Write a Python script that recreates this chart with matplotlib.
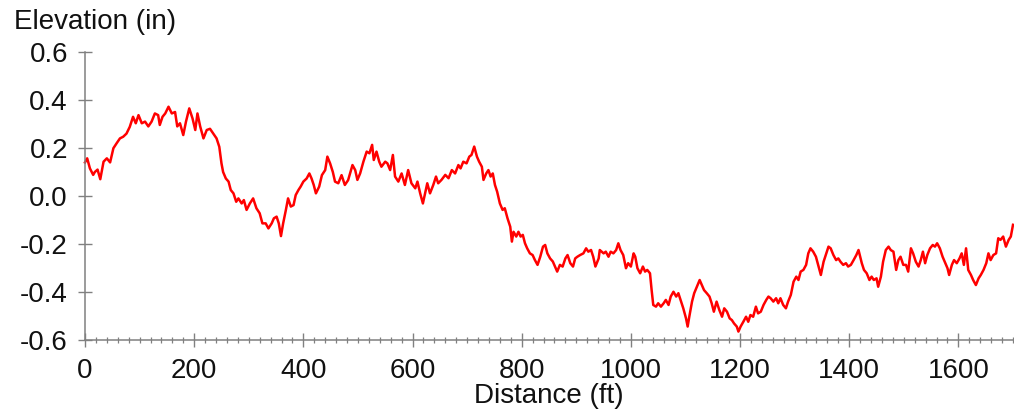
import matplotlib
matplotlib.use("Agg")
import matplotlib.pyplot as plt
from matplotlib.ticker import MultipleLocator

distance_ft = [
    0, 4, 9, 15, 18, 23, 28, 34, 40, 46, 52, 58, 64, 70, 76, 82, 88, 93, 98, 104,
    110, 116, 122, 128, 134, 137, 142, 147, 153, 159, 165, 169, 174, 180, 185, 191,
    197, 202, 206, 211, 217, 223, 229, 235, 241,
    246, 250, 253, 258, 263, 267, 272, 277, 281, 287, 291, 296, 302, 308, 314, 320,
    325, 331, 336, 342, 346, 351, 355, 359, 363, 368, 372, 377, 382, 386, 391, 395,
    400, 406, 411, 415, 419, 423, 429, 434, 440, 444, 449, 454, 458, 464, 470, 476, 482,
    490, 495, 499, 504, 510, 516, 521, 526, 529, 534, 539, 543, 550, 554, 559, 564,
    568, 574, 580, 586, 592, 598, 605, 609, 614, 619, 623, 627, 632, 638, 643, 647,
    653, 660, 666, 672, 678, 684, 688, 693, 699, 704, 708,
    713, 718, 722, 727, 730, 735, 739, 743, 747, 751, 755, 760, 765, 769, 774, 779,
    782, 785, 790, 794, 798, 802, 806, 810, 815, 820, 824, 829, 834, 839, 843, 847,
    852, 857, 861, 865, 870, 875, 880, 884, 889, 894, 898, 902, 907, 913, 918, 922,
    927, 931, 935, 941,
    943, 950, 954, 959, 963, 968, 973, 977, 981, 986, 991, 995, 1000, 1005, 1008, 1012,
    1017, 1022, 1026, 1030, 1035, 1038, 1041, 1046, 1050, 1055, 1060, 1064, 1069, 1073,
    1078, 1083, 1087, 1091, 1096, 1101, 1104, 1107, 1112, 1116, 1121, 1126, 1130, 1134,
    1139, 1144, 1148, 1152, 1157, 1162, 1167, 1171, 1176, 1181, 1185, 1189, 1194,
    1197, 1201, 1206, 1211, 1215, 1219, 1224, 1229, 1233, 1238, 1243, 1248, 1252, 1256,
    1261, 1266, 1270, 1274, 1279, 1284, 1288, 1293, 1298, 1303, 1307, 1311, 1316, 1321,
    1325, 1329, 1334, 1339, 1343, 1348, 1353, 1358, 1362, 1366, 1371, 1376, 1380, 1384,
    1389, 1394, 1398, 1403, 1408, 1413, 1417,
    1423, 1427, 1432, 1437, 1441, 1445, 1450, 1453, 1458, 1462, 1467, 1472, 1476, 1481,
    1486, 1490, 1494, 1499, 1504, 1508, 1513, 1517, 1522, 1527, 1531, 1535, 1539, 1543,
    1548, 1553, 1557, 1561, 1566, 1571, 1576, 1580, 1583, 1588, 1592, 1597, 1602, 1606,
    1610, 1614, 1618, 1623, 1627, 1632, 1637, 1641, 1646, 1651, 1655, 1659, 1664, 1669,
    1673, 1677, 1682, 1687, 1692, 1696, 1700,
]

elevation_in = [
    0.14, 0.157, 0.115, 0.088, 0.10, 0.11, 0.07, 0.143, 0.157, 0.14, 0.199, 0.22, 0.24,
    0.247, 0.26, 0.288, 0.33, 0.303, 0.337, 0.303, 0.31, 0.29, 0.31, 0.344, 0.337, 0.296,
    0.33, 0.344, 0.372, 0.344, 0.35, 0.29, 0.303, 0.254, 0.31, 0.365, 0.323, 0.275, 0.344,
    0.29, 0.24, 0.275, 0.28, 0.26, 0.24,
    0.205, 0.136, 0.10, 0.073, 0.06, 0.025, 0.011, -0.024, -0.01, -0.031, -0.017, -0.058,
    -0.031, -0.01, -0.051, -0.072, -0.114, -0.114, -0.135, -0.114, -0.093, -0.086, -0.114,
    -0.167, -0.114, -0.058, -0.01, -0.044, -0.038, 0.004, 0.025, 0.039, 0.06, 0.073, 0.094,
    0.073, 0.046, 0.011, 0.039, 0.087, 0.108, 0.164, 0.136, 0.10, 0.06, 0.053, 0.087,
    0.046, 0.066,
    0.129, 0.108, 0.067, 0.094, 0.143, 0.185, 0.178, 0.213, 0.15, 0.185, 0.143, 0.122,
    0.143, 0.136, 0.108, 0.171, 0.081, 0.06, 0.094, 0.046, 0.108, 0.053, 0.032, 0.06,
    0.011, -0.031, 0.011, 0.053, 0.011, 0.046, 0.081, 0.053, 0.067, 0.088, 0.074, 0.108,
    0.094, 0.129, 0.115, 0.143, 0.136, 0.164, 0.171,
    0.206, 0.164, 0.143, 0.122, 0.067, 0.094, 0.108, 0.081, 0.094, 0.046, 0.018, -0.031,
    -0.058, -0.051, -0.093, -0.128, -0.19, -0.149, -0.169, -0.149, -0.169, -0.162, -0.197,
    -0.218, -0.239, -0.246, -0.266, -0.287, -0.253, -0.211, -0.204, -0.239, -0.26, -0.273,
    -0.294, -0.315, -0.287, -0.294, -0.26, -0.246, -0.28, -0.294, -0.26, -0.253, -0.246,
    -0.239, -0.218, -0.232, -0.225, -0.253, -0.294, -0.26,
    -0.225, -0.239, -0.232, -0.253, -0.232, -0.239, -0.225, -0.197, -0.225, -0.246, -0.301,
    -0.28, -0.294, -0.239, -0.253, -0.301, -0.322, -0.294, -0.315, -0.308, -0.322, -0.392,
    -0.454, -0.461, -0.447, -0.461, -0.447, -0.433, -0.454, -0.419, -0.399, -0.419, -0.405,
    -0.433, -0.468, -0.51, -0.544, -0.503, -0.44, -0.405, -0.378, -0.35, -0.371, -0.392,
    -0.405, -0.419, -0.447, -0.482, -0.44, -0.475, -0.503, -0.468, -0.482, -0.51, -0.517,
    -0.531, -0.544,
    -0.565, -0.544, -0.524, -0.503, -0.524, -0.496, -0.503, -0.461, -0.489, -0.482, -0.454,
    -0.433, -0.419, -0.426, -0.44, -0.426, -0.447, -0.426, -0.454, -0.468, -0.44, -0.412,
    -0.357, -0.336, -0.35, -0.315, -0.308, -0.287, -0.239, -0.218, -0.232, -0.253, -0.287,
    -0.329, -0.274, -0.239, -0.211, -0.218, -0.246, -0.267, -0.26, -0.274, -0.287, -0.28,
    -0.294, -0.287, -0.267, -0.246, -0.225,
    -0.28, -0.308, -0.322, -0.35, -0.336, -0.35, -0.343, -0.378, -0.336, -0.274, -0.225,
    -0.211, -0.225, -0.232, -0.308, -0.267, -0.253, -0.287, -0.287, -0.315, -0.218, -0.239,
    -0.274, -0.294, -0.267, -0.232, -0.28, -0.246, -0.218, -0.204, -0.211, -0.197, -0.218,
    -0.253, -0.28, -0.301, -0.329, -0.287, -0.267, -0.28, -0.26, -0.239, -0.287, -0.218,
    -0.308, -0.329, -0.35, -0.371, -0.343, -0.329, -0.308, -0.28, -0.239, -0.267, -0.246,
    -0.239, -0.176, -0.183, -0.169, -0.211, -0.183, -0.169, -0.12,
]

x_ticks = [0, 200, 400, 600, 800, 1000, 1200, 1400, 1600]
y_ticks = [-0.6, -0.4, -0.2, 0.0, 0.2, 0.4, 0.6]
y_labels = ["-0.6", "-0.4", "-0.2", "0.0", "0.2", "0.4", "0.6"]

plt.rcParams['font.family'] = ['Liberation Sans', 'DejaVu Sans']

W, H = 1014, 411
fig = plt.figure(figsize=(W / 100, H / 100), dpi=100)
ax = fig.add_axes([85 / W, 1 - 340 / H, (1013 - 85) / W, (340 - 52) / H])

ax.plot(distance_ft, elevation_in, color='#ff0000', lw=1.8, solid_joinstyle='round',
        clip_on=False)

ax.set_xlim(0, 1700)
ax.set_ylim(-0.6, 0.6)
ax.set_xticks(x_ticks)
ax.set_xticklabels([str(t) for t in x_ticks])
ax.xaxis.set_minor_locator(MultipleLocator(20))
ax.set_yticks(y_ticks)
ax.set_yticklabels(y_labels)

for s in ['top', 'right']:
    ax.spines[s].set_visible(False)
for s in ['left', 'bottom']:
    ax.spines[s].set_color('#808080')
    ax.spines[s].set_linewidth(1.1)

fs = 20
ax.tick_params(axis='both', which='major', direction='inout', length=9.5, width=1.0,
               color='#808080', labelcolor='#111111', labelsize=fs)
ax.tick_params(axis='x', which='major', pad=8)
ax.tick_params(axis='y', which='major', pad=7.5)
ax.tick_params(axis='x', which='minor', direction='inout', length=5, width=0.9,
               color='#808080')

fig.text(14 / W, 1 - 29 / H, "Elevation (in)", fontsize=fs, color='#111111',
         ha='left', va='baseline')
fig.text((85 + 1013) / 2 / W, 1 - 403 / H, "Distance (ft)", fontsize=fs, color='#111111',
         ha='center', va='baseline')

fig.savefig("out.png", dpi=100)
